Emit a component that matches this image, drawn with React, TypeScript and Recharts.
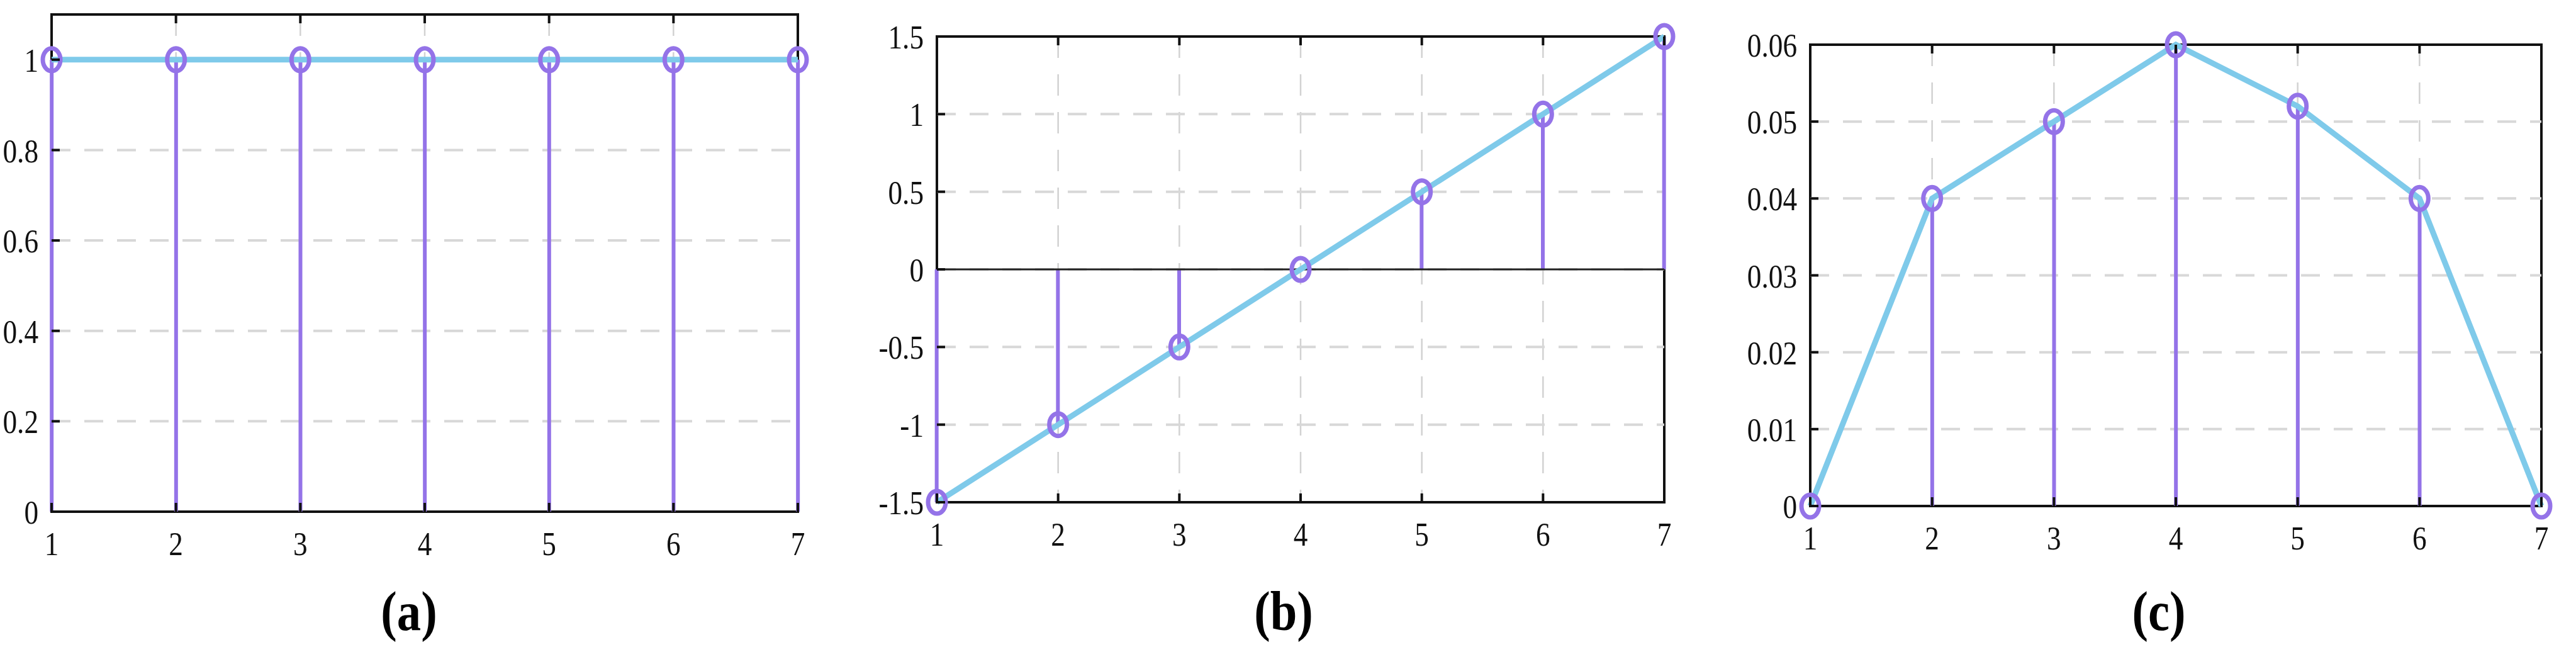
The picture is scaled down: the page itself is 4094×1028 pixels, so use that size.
import React from 'react';
import { ComposedChart, Bar, Line, Scatter, XAxis, YAxis, CartesianGrid, ReferenceLine } from 'recharts';

const samples = [1, 2, 3, 4, 5, 6, 7];
const weightsA = [1, 1, 1, 1, 1, 1, 1];
const weightsB = [-1.5, -1, -0.5, 0, 0.5, 1, 1.5];
const weightsC = [0, 0.04, 0.05, 0.06, 0.052, 0.04, 0];

const ticksA = [0, 0.2, 0.4, 0.6, 0.8, 1];
const ticksB = [-1.5, -1, -0.5, 0, 0.5, 1, 1.5];
const ticksC = [0, 0.01, 0.02, 0.03, 0.04, 0.05, 0.06];

const STEM = '#9473e8';
const LINE = '#7fcaea';
const FONT = '"Liberation Serif", "Times New Roman", serif';
const SQUEEZE = 0.87;
const H = 1028;

const BottomTick = (props: any) => {
  const { x, y, payload } = props;
  return (
    <g>
      <line x1={x} y1={y} x2={x} y2={y - 14} stroke="#111" strokeWidth={4} />
      <text
        transform={`translate(${x},${y + 52}) scale(${SQUEEZE},1)`}
        textAnchor="middle"
        dominantBaseline="central"
        fontFamily={FONT}
        fontSize={52}
        fill="#111"
      >
        {payload.value}
      </text>
    </g>
  );
};

const TopTick = (props: any) => {
  const { x, y } = props;
  return <line x1={x} y1={y} x2={x} y2={y + 14} stroke="#111" strokeWidth={4} />;
};

const LeftTick = (props: any) => {
  const { x, y, payload } = props;
  return (
    <g>
      <line x1={x} y1={y} x2={x + 13} y2={y} stroke="#111" strokeWidth={4} />
      <text
        transform={`translate(${x - 21},${y + 2}) scale(${SQUEEZE},1)`}
        textAnchor="end"
        dominantBaseline="central"
        fontFamily={FONT}
        fontSize={52}
        fill="#111"
      >
        {String(payload.value)}
      </text>
    </g>
  );
};

const RightTick = (props: any) => {
  const { x, y } = props;
  return <line x1={x} y1={y} x2={x - 13} y2={y} stroke="#111" strokeWidth={4} />;
};

const Ring = (props: any) => {
  const { cx, cy } = props;
  return <ellipse cx={cx} cy={cy} rx={14} ry={18} fill="none" stroke={STEM} strokeWidth={7} />;
};

interface PanelProps {
  left: number;
  width: number;
  margin: { top: number; right: number; bottom: number; left: number };
  values: number[];
  ticks: number[];
  domain: [number, number];
  tag: string;
  tagX: number;
  zeroLine?: boolean;
}

const Panel = ({ left, width, margin, values, ticks, domain, tag, tagX, zeroLine }: PanelProps) => {
  const data = samples.map((s, i) => ({ x: s, v: values[i] }));
  // grid only on the inner ticks, the box covers the edges
  const innerX = samples.slice(1, -1);
  const innerY = ticks.filter((t) => t !== domain[0] && t !== domain[1]);
  // axes take 1px each, so pull the margins in by one
  const m = {
    top: margin.top - 1,
    right: margin.right - 1,
    bottom: margin.bottom - 1,
    left: margin.left - 1,
  };
  const plotW = width - margin.left - margin.right;
  const plotH = H - margin.top - margin.bottom;
  return (
    <div style={{ position: 'absolute', left, top: 0, width, height: H }}>
      {/* box frame sits under the chart so edge stems draw over it */}
      <svg width={width} height={H} style={{ position: 'absolute', left: 0, top: 0 }}>
        <rect
          x={margin.left}
          y={margin.top}
          width={plotW}
          height={plotH}
          fill="none"
          stroke="#111"
          strokeWidth={4}
        />
      </svg>
      <ComposedChart width={width} height={H} data={data} margin={m}>
        <CartesianGrid
          horizontal={false}
          verticalValues={innerX}
          stroke="#d2d2d2"
          strokeWidth={2.5}
          strokeDasharray="34 26"
        />
        <CartesianGrid
          vertical={false}
          horizontalValues={innerY}
          stroke="#d8d8d8"
          strokeWidth={4}
          strokeDasharray="30 22"
        />
        <XAxis
          dataKey="x"
          type="number"
          domain={[1, 7]}
          ticks={samples}
          interval={0}
          height={1}
          tickSize={0}
          tickMargin={0}
          tickLine={false}
          axisLine={false}
          tick={<BottomTick />}
        />
        <XAxis
          xAxisId="top"
          orientation="top"
          type="number"
          domain={[1, 7]}
          ticks={samples}
          interval={0}
          height={1}
          tickSize={0}
          tickMargin={0}
          tickLine={false}
          axisLine={false}
          tick={<TopTick />}
        />
        <YAxis
          type="number"
          domain={domain}
          ticks={ticks}
          interval={0}
          width={1}
          tickSize={0}
          tickMargin={0}
          tickLine={false}
          axisLine={false}
          tick={<LeftTick />}
        />
        <YAxis
          yAxisId="right"
          orientation="right"
          type="number"
          domain={domain}
          ticks={ticks}
          interval={0}
          width={1}
          tickSize={0}
          tickMargin={0}
          tickLine={false}
          axisLine={false}
          tick={<RightTick />}
        />
        {zeroLine && <ReferenceLine y={0} stroke="#222" strokeWidth={3} />}
        <Bar dataKey="v" barSize={6} fill={STEM} isAnimationActive={false} />
        <Line
          dataKey="v"
          type="linear"
          stroke={LINE}
          strokeWidth={9}
          dot={false}
          activeDot={false}
          isAnimationActive={false}
        />
        <Scatter dataKey="v" shape={<Ring />} isAnimationActive={false} />
      </ComposedChart>
      <svg
        width={width}
        height={H}
        style={{ position: 'absolute', left: 0, top: 0, pointerEvents: 'none' }}
      >
        <text
          transform={`translate(${tagX},${972}) scale(${SQUEEZE},1)`}
          textAnchor="middle"
          dominantBaseline="central"
          fontFamily={FONT}
          fontWeight="bold"
          fontSize={88}
          fill="#000"
        >
          {tag}
        </text>
      </svg>
    </div>
  );
};

export default function App() {
  return (
    <div
      style={{
        position: 'absolute',
        left: 0,
        top: 0,
        width: 4094,
        height: H,
        background: '#fff',
        overflow: 'hidden',
      }}
    >
      <Panel
        left={0}
        width={1380}
        margin={{ top: 23, right: 112, bottom: 215, left: 82 }}
        values={weightsA}
        ticks={ticksA}
        domain={[0, 1.1]}
        tag="(a)"
        tagX={650}
      />
      <Panel
        left={1380}
        width={1380}
        margin={{ top: 58, right: 115, bottom: 230, left: 109 }}
        values={weightsB}
        ticks={ticksB}
        domain={[-1.5, 1.5]}
        tag="(b)"
        tagX={660}
        zeroLine
      />
      <Panel
        left={2760}
        width={1334}
        margin={{ top: 71, right: 55, bottom: 224, left: 117 }}
        values={weightsC}
        ticks={ticksC}
        domain={[0, 0.06]}
        tag="(c)"
        tagX={671}
      />
    </div>
  );
}
